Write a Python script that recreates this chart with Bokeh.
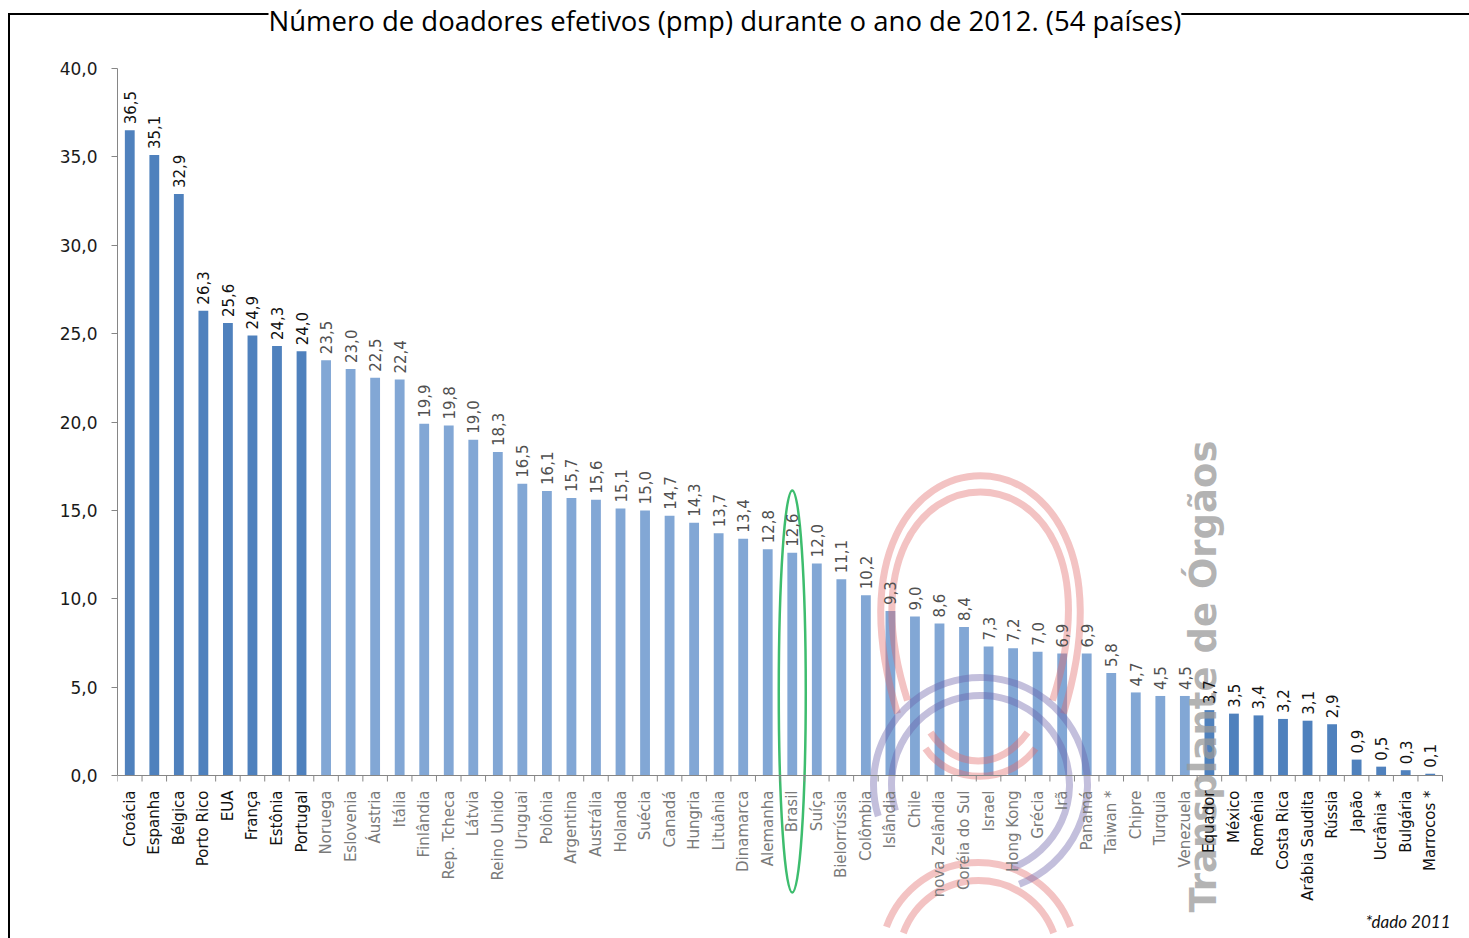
import math
from bokeh.plotting import figure
from bokeh.models import ColumnDataSource, Range1d, FixedTicker, CustomJSTickFormatter
from bokeh.core.properties import value
from bokeh.embed import file_html
from bokeh.resources import INLINE

countries = ["Croácia", "Espanha", "Bélgica", "Porto Rico", "EUA", "França", "Estônia", "Portugal",
             "Noruega", "Eslovenia", "Áustria", "Itália", "Finlândia", "Rep. Tcheca", "Látvia", "Reino Unido",
             "Uruguai", "Polônia", "Argentina", "Austrália", "Holanda", "Suécia", "Canadá", "Hungria",
             "Lituânia", "Dinamarca", "Alemanha", "Brasil", "Suíça", "Bielorrússia", "Colômbia", "Islândia",
             "Chile", "nova Zelândia", "Coréia do Sul", "Israel", "Hong Kong", "Grécia", "Irã", "Panamá",
             "Taiwan *", "Chipre", "Turquia", "Venezuela", "Equador", "México", "Romênia", "Costa Rica",
             "Arábia Saudita", "Rússia", "Japão", "Ucrânia *", "Bulgária", "Marrocos *"]
donors = [36.5, 35.1, 32.9, 26.3, 25.6, 24.9, 24.3, 24.0,
          23.5, 23.0, 22.5, 22.4, 19.9, 19.8, 19.0, 18.3,
          16.5, 16.1, 15.7, 15.6, 15.1, 15.0, 14.7, 14.3,
          13.7, 13.4, 12.8, 12.6, 12.0, 11.1, 10.2, 9.3,
          9.0, 8.6, 8.4, 7.3, 7.2, 7.0, 6.9, 6.9,
          5.8, 4.7, 4.5, 4.5, 3.7, 3.5, 3.4, 3.2,
          3.1, 2.9, 0.9, 0.5, 0.3, 0.1]
# which bars sit in the lightened (watermarked) band of the original
faded = [False] * 8 + [True] * 36 + [False] * 10
y_ticks = [0, 5, 10, 15, 20, 25, 30, 35, 40]
title_text = "Número de doadores efetivos (pmp) durante o ano de 2012. (54 países)"
note_text = "*dado 2011"
watermark_text = "Transplante de Órgãos"
highlight = "Brasil"

W, H = 1469, 938
AX_LEFT, AX_RIGHT, AX_BOTTOM, AX_TOP = 117, 1442, 775, 68
px_per_cat = (AX_RIGHT - AX_LEFT) / 54.0
px_per_unit = (AX_BOTTOM - AX_TOP) / 40.0


def dx(px):
    return (px - AX_LEFT) / px_per_cat


def dy(py):
    return (AX_BOTTOM - py) / px_per_unit


n = len(countries)
xs = [i + 0.5 for i in range(n)]
src = ColumnDataSource(dict(
    x=xs, top=donors, name=countries,
    lab=[("%.1f" % v).replace(".", ",") for v in donors],
    bar_color=["#82a7d5" if f else "#4f81bd" for f in faded],
    cat_color=["#7a7a7a" if f else "#111111" for f in faded],
    val_color=["#505050" if f else "#111111" for f in faded],
))

p = figure(width=W, height=H, output_backend="svg", toolbar_location=None,
           x_range=Range1d(0, dx(W)), y_range=Range1d(dy(H), dy(0)),
           x_axis_location=None, min_border_left=AX_LEFT, min_border_right=0,
           min_border_top=0, min_border_bottom=0)
p.outline_line_color = None
p.grid.visible = False
p.border_fill_color = None
p.background_fill_color = None
p.styles = {
    "background-image": "linear-gradient(#000,#000), linear-gradient(#000,#000)",
    "background-size": "100% 2px, 2px 100%",
    "background-position": "8px 13px, 8px 13px",
    "background-repeat": "no-repeat",
}

ya = p.yaxis[0]
ya.ticker = FixedTicker(ticks=y_ticks)
ya.formatter = CustomJSTickFormatter(code="return tick.toFixed(1).replace('.', ',');")
ya.bounds = (0, 40)
ya.axis_line_color = "#868686"
ya.major_tick_line_color = "#868686"
ya.major_tick_out = 6
ya.major_tick_in = 0
ya.minor_tick_out = 0
ya.minor_tick_in = 0
ya.major_label_standoff = 14
ya.major_label_text_font = "DejaVu Sans"
ya.major_label_text_font_size = "17px"
ya.major_label_text_color = "#1a1a1a"

# title (white background breaks the frame line, as in the original)
p.text(x=[dx(268)], y=[dy(20)], text=[title_text], text_align="left", text_baseline="alphabetic",
       text_font=value("Open Sans"), text_font_size="27.5px", text_color="#000000",
       background_fill_color="white")

p.vbar(x="x", top="top", width=0.4, source=src, fill_color="bar_color", line_color=None)

# red horseshoe arcs (watermark)
p.bezier(x0=[dx(897), dx(907)], y0=[dy(713), dy(700)], x1=[dx(1063), dx(1052)], y1=[dy(713), dy(700)],
         cx0=[dx(800), dx(818)], cy0=[dy(396), dy(422)], cx1=[dx(1160), dx(1142)], cy1=[dy(396), dy(422)],
         line_color="#e06a6a", line_alpha=0.4, line_width=7)
p.bezier(x0=[dx(930), dx(925)], y0=[dy(732), dy(748)], x1=[dx(1027), dx(1035)], y1=[dy(732), dy(748)],
         cx0=[dx(955), dx(950)], cy0=[dy(770), dy(785)], cx1=[dx(1000), dx(1008)], cy1=[dy(770), dy(785)],
         line_color="#e06a6a", line_alpha=0.4, line_width=7)
p.arc(x=[dx(978), dx(978)], y=[dy(960), dy(960)], radius=[98, 80], radius_units="screen",
      start_angle=0.35, end_angle=math.pi - 0.35, line_color="#e06a6a", line_alpha=0.4, line_width=7)
# purple rings (watermark)
p.arc(x=[dx(980), dx(980)], y=[dy(784), dy(784)], radius=[107, 89], radius_units="screen",
      start_angle=-1.2, end_angle=math.pi + 0.3, line_color="#6a5fa8", line_alpha=0.4, line_width=7)

# green highlight ellipse
bi = countries.index(highlight)
p.ellipse(x=[xs[bi]], y=[dy(691)], width=27, height=402, width_units="screen", height_units="screen",
          fill_color=None, line_color="#3dbd6e", line_width=2.5)

# watermark text
p.text(x=[dx(1203)], y=[dy(440)], text=[watermark_text], angle=math.pi / 2,
       text_align="right", text_baseline="middle", text_font=value("DejaVu Sans"),
       text_font_style="bold", text_font_size="37px", text_color="#9a9a9a", text_alpha=0.75)

# x axis line and ticks between categories
bounds = list(range(n + 1))
p.segment(x0=[0], y0=[0], x1=[n], y1=[0], line_color="#868686", line_width=1)
p.segment(x0=bounds, y0=[0] * len(bounds), x1=bounds, y1=[-6 / px_per_unit] * len(bounds),
          line_color="#868686", line_width=1)

# category labels
p.text(x="x", y=0, text="name", source=src, angle=math.pi / 2, text_align="right",
       text_baseline="middle", y_offset=15, text_font=value("DejaVu Sans"),
       text_font_size="15px", text_color="cat_color")
# value labels
p.text(x="x", y="top", text="lab", source=src, angle=math.pi / 2, text_align="left",
       text_baseline="middle", y_offset=-6, text_font=value("DejaVu Sans"),
       text_font_size="15px", text_color="val_color")

# footnote
p.text(x=[dx(1450)], y=[dy(931)], text=[note_text], text_align="right", text_baseline="bottom",
       text_font=value("Lato"), text_font_style="italic", text_font_size="17px", text_color="#111111")

open("out.html", "w").write(file_html(p, INLINE))
